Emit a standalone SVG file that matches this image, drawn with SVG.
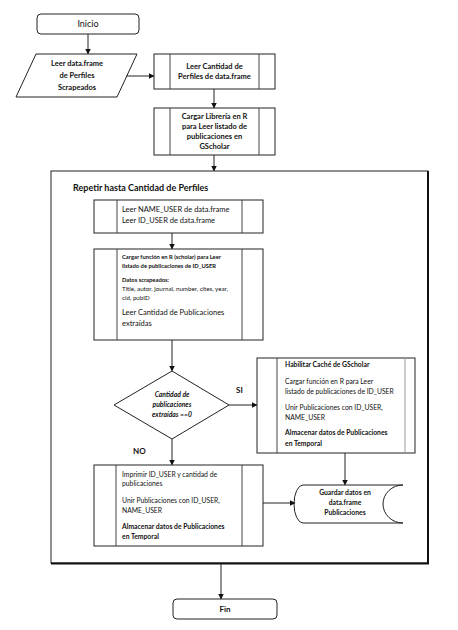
<svg xmlns="http://www.w3.org/2000/svg" width="458" height="630" viewBox="0 0 458 630">
<defs>
<marker id="ah" markerWidth="6" markerHeight="6" refX="5" refY="3" orient="auto" markerUnits="userSpaceOnUse">
<path d="M0,0 L6,3 L0,6 Z" fill="#111"/>
</marker>
<style>
.s{fill:#fff;stroke:#222;stroke-width:1}
.il{stroke:#444;stroke-width:1}
.c{fill:none;stroke:#222;stroke-width:1;marker-end:url(#ah)}
text{font-family:Lato,"Liberation Sans",sans-serif;fill:#111}
.b{font-weight:bold}
.m{text-anchor:middle}
</style>
</defs>
<rect width="458" height="630" fill="#fff"/>

<g id="container">
<rect x="51" y="171" width="377" height="392" fill="none" stroke="#222" stroke-width="1"/>
<line x1="428" y1="171" x2="428" y2="564" stroke="#111" stroke-width="2"/>
<line x1="51" y1="563.5" x2="429" y2="563.5" stroke="#111" stroke-width="2"/>
<text x="73" y="191" class="b" font-size="9">Repetir hasta Cantidad de Perfiles</text>
</g>

<g id="inicio">
<rect x="37" y="14" width="102" height="20" rx="4" class="s"/>
<text x="88" y="27" class="m" font-size="9">Inicio</text>
</g>

<g id="leer-dataframe">
<polygon points="36,54 137,54 117,97 16,97" class="s"/>
<text x="77" y="66" class="m b" font-size="7.5">Leer data.frame</text>
<text x="77" y="78" class="m b" font-size="7.5">de Perfiles</text>
<text x="77" y="90" class="m b" font-size="7.5">Scrapeados</text>
</g>

<g id="leer-cantidad">
<rect x="154" y="54" width="121" height="35" class="s"/>
<line x1="170" y1="54" x2="170" y2="89" class="il"/>
<line x1="259" y1="54" x2="259" y2="89" class="il"/>
<text x="214.5" y="69" class="m b" font-size="7.5">Leer Cantidad de</text>
<text x="214.5" y="79" class="m b" font-size="7.5">Perfiles de data.frame</text>
</g>

<g id="cargar-libreria">
<rect x="154" y="108" width="121" height="47" class="s"/>
<line x1="170" y1="108" x2="170" y2="155" class="il"/>
<line x1="259" y1="108" x2="259" y2="155" class="il"/>
<text x="214.5" y="119" class="m b" font-size="7.5">Cargar Librería en R</text>
<text x="214.5" y="129" class="m b" font-size="7.5">para Leer listado de</text>
<text x="214.5" y="139" class="m b" font-size="7.5">publicaciones en</text>
<text x="214.5" y="149" class="m b" font-size="7.5">GScholar</text>
</g>

<g id="leer-name-user">
<rect x="94" y="200" width="169" height="33" class="s"/>
<line x1="117" y1="200" x2="117" y2="233" class="il"/>
<line x1="242" y1="200" x2="242" y2="233" class="il"/>
<text x="122" y="212" font-size="7.5">Leer NAME_USER de data.frame</text>
<text x="122" y="223" font-size="7.5">Leer ID_USER de data.frame</text>
</g>

<g id="cargar-funcion">
<rect x="94" y="249" width="169" height="91" class="s"/>
<line x1="117" y1="249" x2="117" y2="340" class="il"/>
<line x1="242" y1="249" x2="242" y2="340" class="il"/>
<text x="122" y="259" class="b" font-size="5.8">Cargar función en R (scholar)  para Leer</text>
<text x="122" y="268" class="b" font-size="5.8">listado de publicaciones de ID_USER</text>
<text x="122" y="282" class="b" font-size="5.8">Datos scrapeados:</text>
<text x="122" y="291" font-size="6.2"> Title, autor, journal, number, cites, year,</text>
<text x="122" y="300" font-size="6.2">cid, pubID</text>
<text x="122" y="315" font-size="7.5">Leer Cantidad de Publicaciones</text>
<text x="122" y="326" font-size="7.5">extraídas</text>
</g>

<g id="decision">
<polygon points="172,371 229,405 172,439 114,405" class="s"/>
<text x="172" y="397" class="m b" font-size="6.8" font-style="italic">Cantidad de</text>
<text x="172" y="407" class="m b" font-size="6.8" font-style="italic">publicaciones</text>
<text x="172" y="417" class="m b" font-size="6.8" font-style="italic">extraídas ==0</text>
</g>

<g id="habilitar-cache">
<rect x="257" y="358" width="158" height="95" class="s"/>
<line x1="277" y1="358" x2="277" y2="453" class="il"/>
<line x1="405" y1="358" x2="405" y2="453" stroke="#999" stroke-width="1"/>
<text x="285" y="367" class="b" font-size="6.8">Habilitar Caché de GScholar</text>
<text x="285" y="384" font-size="6.8"> Cargar función en R para Leer</text>
<text x="285" y="394" font-size="6.8">listado de publicaciones de ID_USER</text>
<text x="285" y="410" font-size="6.8">Unir Publicaciones con ID_USER,</text>
<text x="285" y="420" font-size="6.8">NAME_USER</text>
<text x="285" y="435" class="b" font-size="6.8">Almacenar datos de Publicaciones</text>
<text x="285" y="446" class="b" font-size="6.8">en Temporal</text>
</g>

<g id="imprimir">
<rect x="94" y="465" width="169" height="81" class="s"/>
<line x1="116" y1="465" x2="116" y2="546" class="il"/>
<line x1="242" y1="465" x2="242" y2="546" class="il"/>
<text x="122" y="477" font-size="6.8">Imprimir ID_USER y cantidad de</text>
<text x="122" y="486" font-size="6.8">publicaciones</text>
<text x="122" y="503" font-size="6.8">Unir Publicaciones con ID_USER,</text>
<text x="122" y="513" font-size="6.8">NAME_USER</text>
<text x="122" y="529" class="b" font-size="6.8">Almacenar datos de Publicaciones</text>
<text x="122" y="539" class="b" font-size="6.8">en Temporal</text>
</g>

<g id="guardar">
<path d="M403,485 H303 A9,19 0 0 0 303,523 H403" class="s"/>
<path d="M403,523 A20,19 0 0 1 403,485" fill="none" stroke="#222" stroke-width="1"/>
<text x="345" y="495" class="m b" font-size="6.8">Guardar  datos en</text>
<text x="345" y="505" class="m b" font-size="6.8">data.frame</text>
<text x="345" y="515" class="m b" font-size="6.8">Publicaciones</text>
</g>

<g id="fin">
<rect x="173" y="599" width="104" height="20" rx="4" class="s"/>
<text x="225" y="612" class="m b" font-size="8">Fin</text>
</g>

<g id="connectors">
<line x1="88" y1="34" x2="88" y2="53.5" class="c"/>
<line x1="126" y1="76" x2="153.5" y2="76" class="c"/>
<line x1="214" y1="89" x2="214" y2="107.5" class="c"/>
<line x1="214" y1="155" x2="214" y2="170.5" class="c"/>
<line x1="172" y1="233" x2="172" y2="248.5" class="c"/>
<line x1="172" y1="340" x2="172" y2="370.5" class="c"/>
<line x1="229" y1="405" x2="256.5" y2="405" class="c"/>
<line x1="172" y1="439" x2="172" y2="464.5" class="c"/>
<line x1="345" y1="453" x2="345" y2="484.5" class="c"/>
<line x1="263" y1="503" x2="294.5" y2="503" class="c"/>
<line x1="221" y1="564" x2="221" y2="598.5" class="c"/>
<text x="236" y="393" class="b" font-size="8">SI</text>
<text x="133" y="454" class="b" font-size="8">NO</text>
</g>
</svg>
